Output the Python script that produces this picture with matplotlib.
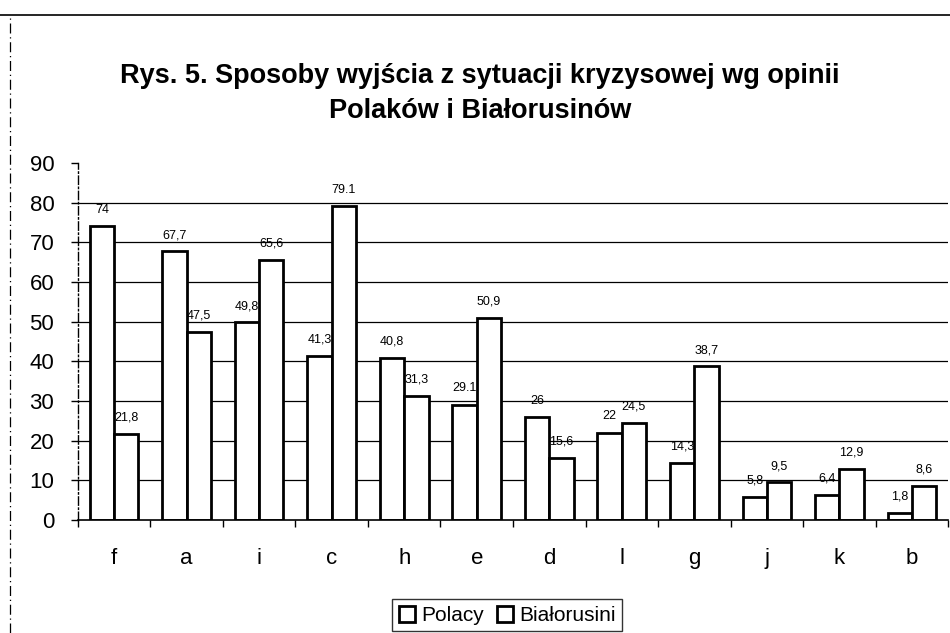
import matplotlib
matplotlib.use("Agg")
import matplotlib.pyplot as plt
import numpy as np
from matplotlib.lines import Line2D

plt.rcParams['font.family'] = ['Liberation Sans', 'DejaVu Sans']

categories = ['f', 'a', 'i', 'c', 'h', 'e', 'd', 'l', 'g', 'j', 'k', 'b']
polacy = [74, 67.7, 49.8, 41.3, 40.8, 29.1, 26, 22, 14.3, 5.8, 6.4, 1.8]
bialorusini = [21.8, 47.5, 65.6, 79.1, 31.3, 50.9, 15.6, 24.5, 38.7, 9.5, 12.9, 8.6]
polacy_labels = ['74', '67,7', '49,8', '41,3', '40,8', '29.1', '26', '22', '14,3', '5,8', '6,4', '1,8']
bialorusini_labels = ['21,8', '47,5', '65,6', '79.1', '31,3', '50,9', '15,6', '24,5', '38,7', '9,5', '12,9', '8,6']
yticks = [0, 10, 20, 30, 40, 50, 60, 70, 80, 90]
title = "Rys. 5. Sposoby wyjścia z sytuacji kryzysowej wg opinii\nPolaków i Białorusinów"

fig = plt.figure(figsize=(9.5, 6.33), dpi=100)
ax = fig.add_axes([0.082, 0.1785, 0.916, 0.564])

x = np.arange(len(categories))
w = 0.335
for yv in yticks[1:-1]:
    ax.axhline(yv, color='black', lw=0.9, zorder=0)

b1 = ax.bar(x - w/2, polacy, w, color='white', edgecolor='black', lw=2, label='Polacy', zorder=2)
b2 = ax.bar(x + w/2, bialorusini, w, color='white', edgecolor='black', lw=2, label='Białorusini', zorder=2)

for xi, v, s in zip(x - w/2, polacy, polacy_labels):
    ax.text(xi, v + 2.6, s, ha='center', va='bottom', fontsize=9, zorder=3)
for xi, v, s in zip(x + w/2, bialorusini, bialorusini_labels):
    ax.text(xi, v + 2.6, s, ha='center', va='bottom', fontsize=9, zorder=3)

ax.set_xlim(-0.5, len(categories) - 0.5)
ax.set_ylim(0, 90)
ax.set_yticks(yticks)
ax.set_yticklabels([str(t) for t in yticks], fontsize=16)
ax.set_xticks(x)
ax.set_xticklabels(categories, fontsize=16)
ax.set_xticks(np.arange(len(categories) + 1) - 0.5, minor=True)
ax.tick_params(axis='x', which='major', length=0, pad=20)
ax.tick_params(axis='x', which='minor', length=5, width=1)
ax.tick_params(axis='y', length=5, width=1, pad=12)

for sp in ['top', 'right']:
    ax.spines[sp].set_visible(False)
ax.spines['left'].set_linestyle((0, (6, 2, 1, 2)))
ax.spines['left'].set_linewidth(1)
ax.spines['bottom'].set_linewidth(1.2)

fig.text(0.505, 0.852, title, ha='center', va='center', fontsize=19.5, fontweight='bold', linespacing=1.45)

leg = fig.legend(handles=[b1, b2], loc='center', bbox_to_anchor=(0.534, 0.028), ncol=2,
                 frameon=True, fancybox=False, edgecolor='black', fontsize=15,
                 handlelength=0.8, handleheight=0.8, handletextpad=0.3, columnspacing=0.6,
                 borderpad=0.3)
leg.get_frame().set_linewidth(1)

# page border remnants
fig.add_artist(Line2D([0.0, 1.0], [0.977, 0.977], transform=fig.transFigure, color='black', lw=1.2))
fig.add_artist(Line2D([0.011, 0.011], [0.0, 0.977], transform=fig.transFigure, color='black', lw=0.9,
                      linestyle=(0, (8, 3, 1, 3))))

fig.savefig('out.png', dpi=100)
